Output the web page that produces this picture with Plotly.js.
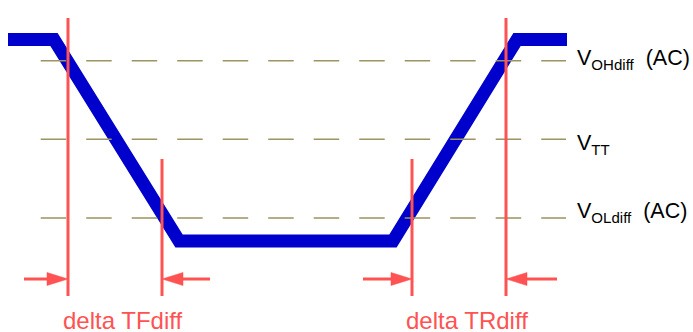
<!DOCTYPE html>
<html>
<head>
<meta charset="utf-8">
<script src="https://cdn.plot.ly/plotly-3.0.1.min.js"></script>
<style>html,body{margin:0;padding:0;background:#fff;}#chart{width:693px;height:332px;}</style>
</head>
<body>
<div id="chart"></div>
<script>
// ---- data (time axis left→right, signal axis top→bottom) ----
const waveTime   = [8, 54, 179, 393, 517, 567];
const waveSignal = [39.5, 39.5, 241, 241, 39.5, 39.5];

const levelLabels = ['V<sub>OHdiff</sub>&nbsp;&nbsp;(AC)', 'V<sub>TT</sub>', 'V<sub>OLdiff</sub>&nbsp;&nbsp;(AC)'];
const levelValues = [60.7, 139.3, 218];
const levelStart = 40.7, levelEnd = 566;

const markerTimes = [68, 162, 412, 506];
const markerTops  = [18, 159, 159, 18];
const markerBottom = 296;

const arrowTails = [24, 210, 363, 557];   // arrow tail times, tip at markerTimes
const arrowLevel = 279;

const intervalLabels = ['delta TFdiff', 'delta TRdiff'];
const intervalPairs  = [[0, 1], [2, 3]];   // markers bounding each interval
const intervalLabelLevel = 320;

// ---- styles ----
const BLUE = '#0000cc', RED = '#ff5252', OLIVE = '#9c9462';
const FONT = 'Liberation Sans, Arial, sans-serif';

const traces = [];
traces.push({x: waveTime, y: waveSignal, mode: 'lines', line: {color: BLUE, width: 13}, hoverinfo: 'skip'});

levelValues.forEach(v => {
  traces.push({x: [levelStart, levelEnd], y: [v, v], mode: 'lines',
    line: {color: OLIVE, width: 1.6, dash: '25.5px,20px'}, hoverinfo: 'skip'});
});

markerTimes.forEach((t, i) => {
  traces.push({x: [t, t], y: [markerTops[i], markerBottom], mode: 'lines',
    line: {color: RED, width: 3}, hoverinfo: 'skip'});
});

const headLen = 21, headHalf = 6.5;
markerTimes.forEach((tip, i) => {
  const tail = arrowTails[i];
  const dir = Math.sign(tip - tail);
  traces.push({x: [tail, tip - dir * headLen * 0.5], y: [arrowLevel, arrowLevel], mode: 'lines',
    line: {color: RED, width: 3}, hoverinfo: 'skip'});
  traces.push({x: [tip, tip - dir * headLen, tip - dir * headLen, tip],
    y: [arrowLevel, arrowLevel - headHalf, arrowLevel + headHalf, arrowLevel],
    mode: 'lines', fill: 'toself', fillcolor: RED, line: {color: RED, width: 0.5}, hoverinfo: 'skip'});
});

const labelOffsets = [-1, 5, -6];
const annotations = [];
levelValues.forEach((v, i) => {
  annotations.push({x: 575, y: v + labelOffsets[i], xref: 'x', yref: 'y', xanchor: 'left', yanchor: 'middle',
    text: levelLabels[i], showarrow: false, font: {family: FONT, size: 21.5, color: '#000'}});
});
intervalLabels.forEach((lab, i) => {
  const [a, b] = intervalPairs[i];
  annotations.push({x: (markerTimes[a] + markerTimes[b]) / 2 + 7.5, y: intervalLabelLevel,
    xref: 'x', yref: 'y', xanchor: 'center', yanchor: 'middle',
    text: lab, showarrow: false, font: {family: FONT, size: 24, color: RED}});
});

const layout = {
  width: 693, height: 332,
  margin: {l: 0, r: 0, t: 0, b: 0},
  paper_bgcolor: '#fff', plot_bgcolor: '#fff',
  showlegend: false,
  xaxis: {range: [0, 693], visible: false, fixedrange: true},
  yaxis: {range: [332, 0], visible: false, fixedrange: true},
  annotations: annotations
};
Plotly.newPlot('chart', traces, layout, {staticPlot: true, displayModeBar: false});
</script>
</body>
</html>
